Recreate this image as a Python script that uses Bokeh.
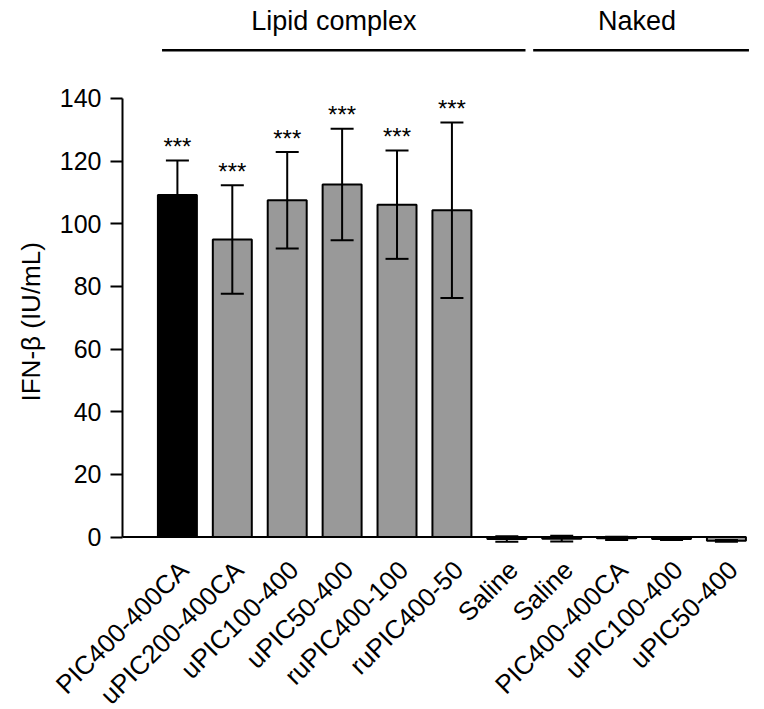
import math
from bokeh.plotting import figure
from bokeh.models import ColumnDataSource, FixedTicker, Whisker, TeeHead, Range1d, Title
from bokeh.core.properties import value
from bokeh.embed import file_html
from bokeh.resources import INLINE

# ---- data ----
categories = ["PIC400-400CA", "uPIC200-400CA", "uPIC100-400", "uPIC50-400",
              "ruPIC400-100", "ruPIC400-50", "Saline",
              "Saline", "PIC400-400CA", "uPIC100-400", "uPIC50-400"]
means = [109.2, 95.0, 107.5, 112.5, 106.1, 104.3, -0.6, -0.5, -0.4, -0.6, -1.2]
errors = [11.0, 17.3, 15.4, 17.8, 17.3, 28.0, 0.9, 0.9, 0.5, 0.3, 0.3]
stars = ["***", "***", "***", "***", "***", "***", "", "", "", "", ""]
group_names = ["Lipid complex", "Naked"]
y_ticks = [0, 20, 40, 60, 80, 100, 120, 140]
y_label = "IFN-β (IU/mL)"

FONT = "Liberation Sans"
xs = list(range(len(categories)))
fills = ["black"] + ["#999999"] * (len(categories) - 1)

src = ColumnDataSource(dict(
    x=xs, top=means, lower=[m - e for m, e in zip(means, errors)],
    upper=[m + e for m, e in zip(means, errors)], fill=fills, stars=stars,
))

p = figure(frame_width=627, frame_height=538,
           x_range=Range1d(-1.0, 10.42), y_range=Range1d(-3, 168.7),
           output_backend="svg", toolbar_location=None,
           min_border_left=122, min_border_right=0, min_border_top=8,
           min_border_bottom=150)
p.outline_line_color = None
p.xgrid.visible = False
p.ygrid.visible = False
p.background_fill_color = "white"

p.vbar(x="x", top="top", bottom=0, width=0.71, source=src,
       fill_color="fill", line_color="black", line_width=2)

w = Whisker(source=src, base="x", upper="upper", lower="lower",
            line_color="black", line_width=2, level="overlay",
            upper_head=TeeHead(size=23, line_width=2, line_color="black"),
            lower_head=TeeHead(size=23, line_width=2, line_color="black"))
p.add_layout(w)

p.text(x="x", y="upper", text="stars", source=src, text_align="center",
       text_baseline="middle", y_offset=-14, text_font=value(FONT),
       text_font_size="24px", text_color="black")

# zero baseline (x axis line)
p.segment(x0=[-1.0], x1=[10.35], y0=[0], y1=[0], line_color="black", line_width=2)

# group labels and bars above
p.segment(x0=[-0.28, 6.48], x1=[6.34, 10.41], y0=[155.4, 155.4], y1=[155.4, 155.4],
          line_color="black", line_width=2.5)
p.text(x=[2.85, 8.37], y=[164.8, 164.8], text=group_names, text_align="center",
       text_baseline="middle", text_font=value(FONT), text_font_size="27px",
       text_color="black")

# y axis
ya = p.yaxis[0]
ya.bounds = (0, 140)
ya.ticker = FixedTicker(ticks=y_ticks)
ya.axis_line_width = 2
ya.major_tick_line_width = 2
ya.major_tick_out = 12
ya.major_tick_in = 0
ya.minor_tick_line_color = None
ya.major_label_text_font = FONT
ya.major_label_text_font_size = "25px"
ya.major_label_text_color = "black"
ya.major_label_standoff = 9

# y axis title, placed along the 0-140 span rather than the whole frame
p.add_layout(Title(text=y_label, align="left", offset=145, standoff=22,
                   text_font=FONT, text_font_size="26px",
                   text_font_style="normal", text_color="black"), "left")

# x axis (line drawn as the zero baseline above); label anchors nudged right
label_shift = 0.12
tick_pos = [x + label_shift for x in xs]
xa = p.xaxis[0]
xa.ticker = FixedTicker(ticks=tick_pos)
xa.major_label_overrides = {t: c for t, c in zip(tick_pos, categories)}
xa.axis_line_color = None
xa.major_tick_line_color = None
xa.minor_tick_line_color = None
xa.major_tick_out = 0
xa.major_tick_in = 0
xa.major_label_orientation = math.pi / 4
xa.major_label_text_font = FONT
xa.major_label_text_font_size = "26px"
xa.major_label_text_color = "black"
xa.major_label_standoff = 19

open("out.html", "w").write(file_html(p, INLINE))
